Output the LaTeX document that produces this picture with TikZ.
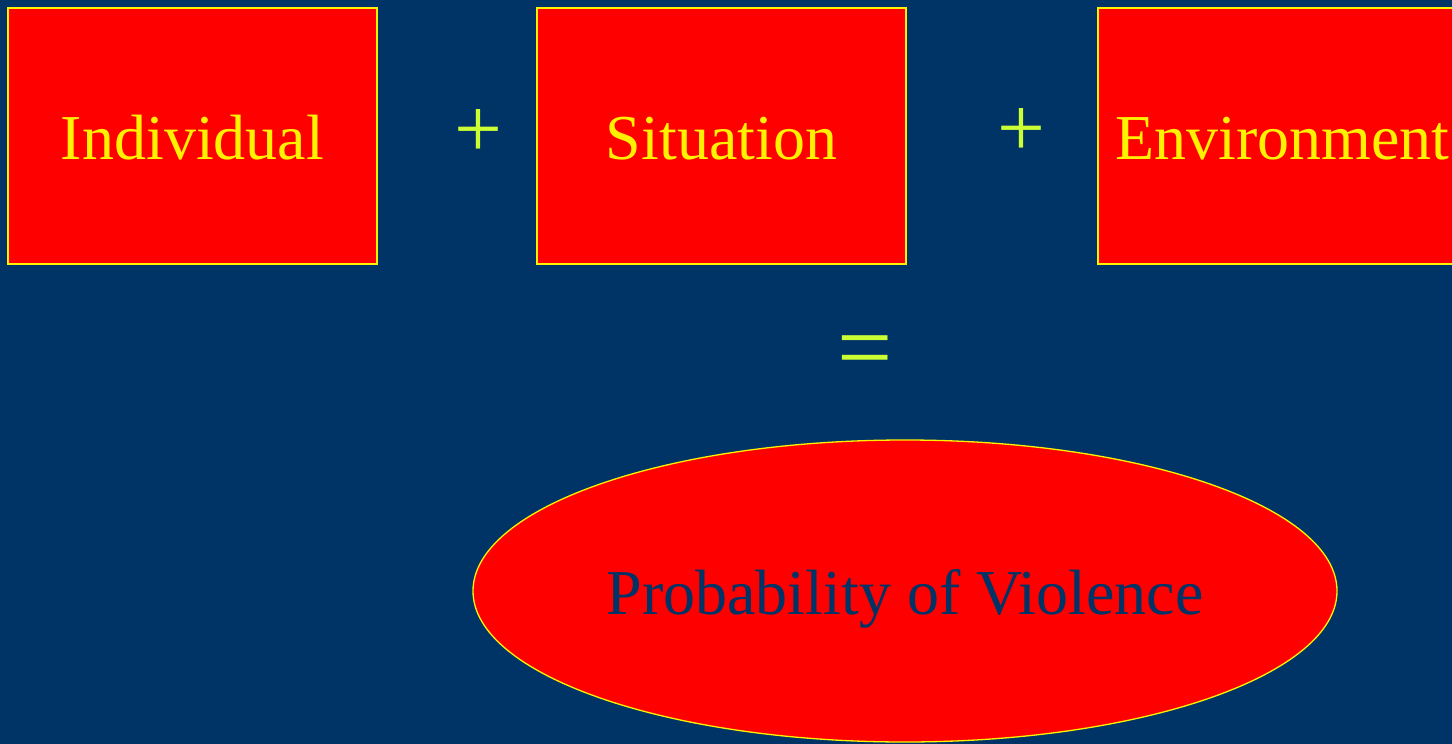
\documentclass[tikz,border=0pt]{standalone}
\usepackage{fontspec}
\setmainfont{Liberation Serif}
\usetikzlibrary{shapes.geometric, positioning}
\definecolor{navybg}{HTML}{003366}
\definecolor{limeop}{HTML}{CCFF33}
\tikzset{
    factor/.style={rectangle, minimum width=369pt, minimum height=256pt, inner sep=0pt, outer sep=0pt, draw=yellow, line width=1.6pt, fill=red, text=yellow, text height=46pt, text depth=0pt, font=\fontsize{64}{70}\selectfont},
    result/.style={ellipse, minimum width=864pt, minimum height=302pt, inner sep=0pt, outer sep=0pt, draw=yellow, line width=1.3pt, fill=red, text=navybg, text height=46pt, text depth=0pt, font=\fontsize{64}{70}\selectfont},
    op/.style={text=limeop, inner sep=0pt, font=\fontsize{85}{90}\selectfont}
}
\begin{document}
\begin{tikzpicture}[x=1pt, y=-1pt]
    % Background
    \fill [navybg] (0,0) rectangle (1452,744);
    \useasboundingbox (0,0) rectangle (1452,744);
    \clip (0,0) rectangle (1452,744);
    
    % Top row: factors
    \node (indiv) [factor] at (192.5,136) {Individual};
    \node (sit) [factor, right=160pt of indiv] {Situation};
    \node (env) [factor, right=192pt of sit] {Environment};
    
    % Operators
    \node (plusA) [op] at (478,133) {+};
    \node (plusB) [op] at (1021,132) {+};
    \node (eq) [op, font=\fontsize{98}{100}\selectfont] at (865,358) {=};
    
    % Outcome
    \node (prob) [result] at (905,591) {Probability of Violence};
\end{tikzpicture}
\end{document}
